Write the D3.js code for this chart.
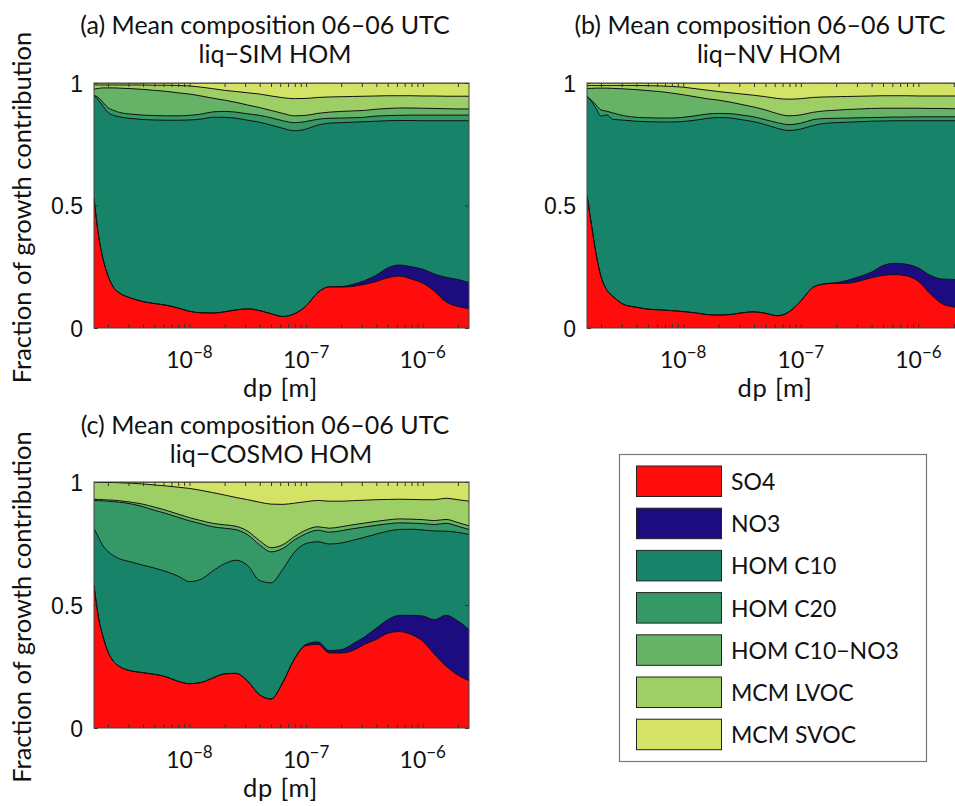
<!DOCTYPE html>
<html><head><meta charset="utf-8">
<script src="https://cdn.jsdelivr.net/npm/d3@7"></script>
<style>
body{margin:0;background:#fff;}
svg{display:block;font-family:Lato,"Noto Sans",sans-serif;}
</style></head><body>
<svg id="chart" width="955" height="806"></svg>
<script>
// particle diameter dp [m]
const dp = [1.52e-9,1.66e-9,1.82e-9,2.00e-9,2.24e-9,2.51e-9,3.16e-9,3.98e-9,5.01e-9,6.31e-9,7.94e-9,
  1.00e-8,1.26e-8,1.58e-8,2.00e-8,2.51e-8,3.16e-8,3.98e-8,5.01e-8,6.31e-8,7.94e-8,
  1.00e-7,1.26e-7,1.58e-7,2.00e-7,2.51e-7,3.16e-7,3.98e-7,5.01e-7,6.31e-7,7.94e-7,
  1.00e-6,1.26e-6,1.58e-6,2.00e-6,2.49e-6];

const seriesNames = ["SO4","NO3","HOM C10","HOM C20","HOM C10\u2212NO3","MCM LVOC","MCM SVOC"];
const seriesColors = ["#ff0d0d","#1c0c80","#178469","#349966","#66b266","#9ecf66","#d4e366"];

const yTicks = [0, 0.5, 1];
const xMajorTicks = [1e-8, 1e-7, 1e-6];
const xTickExponents = ["\u22128", "\u22127", "\u22126"];

// (a) liq-SIM HOM
const simSO4 = [.53,.38,.28,.215,.165,.143,.122,.108,.10,.093,.082,.068,.062,.061,.066,.074,.078,.071,.058,.047,.058,.09,.145,.168,.167,.17,.178,.19,.205,.212,.20,.183,.15,.107,.088,.08];
const simNO3 = [0,0,0,0,0,0,0,0,0,0,0,0,0,0,0,0,0,0,0,0,0,0,0,0,.002,.008,.015,.025,.04,.045,.05,.057,.07,.10,.11,.105];
const simC10 = [.42,.55,.625,.665,.703,.719,.733,.743,.749,.755,.766,.781,.791,.799,.794,.782,.77,.769,.77,.768,.747,.722,.683,.668,.669,.662,.649,.629,.601,.59,.597,.606,.626,.639,.648,.661];
const simC20 = [0,.01,.015,.02,.02,.018,.018,.018,.018,.018,.018,.019,.02,.022,.024,.025,.026,.028,.03,.031,.033,.031,.024,.02,.019,.018,.018,.021,.021,.021,.022,.023,.023,.023,.023,.023];
const simC10NO3 = [.025,.038,.06,.08,.092,.099,.104,.105,.103,.10,.094,.087,.074,.056,.046,.04,.036,.032,.03,.03,.028,.025,.024,.025,.027,.028,.028,.028,.029,.03,.029,.028,.027,.026,.025,.025];
const simLVOC = [.017,.014,.012,.012,.012,.013,.015,.018,.021,.025,.03,.033,.036,.039,.04,.044,.05,.055,.059,.064,.07,.069,.065,.062,.06,.059,.058,.054,.052,.05,.05,.05,.051,.051,.052,.052];
const simSVOC = [.008,.008,.008,.008,.008,.008,.008,.008,.009,.009,.01,.012,.017,.023,.03,.035,.04,.045,.053,.06,.064,.063,.059,.057,.056,.055,.054,.053,.052,.052,.052,.053,.053,.054,.054,.054];

// (b) liq-NV HOM
const nvSO4 = [.54,.42,.30,.21,.155,.13,.095,.085,.077,.074,.071,.067,.062,.055,.053,.055,.062,.066,.06,.05,.066,.11,.165,.18,.182,.183,.192,.205,.215,.218,.213,.19,.14,.10,.086,.08];
const nvNO3 = [0,0,0,0,0,0,0,0,0,0,0,0,0,0,0,0,0,0,0,0,0,0,0,0,.003,.012,.018,.023,.04,.046,.047,.055,.075,.10,.112,.11];
const nvC10 = [.405,.505,.595,.655,.715,.722,.753,.759,.765,.767,.77,.776,.786,.80,.806,.802,.788,.776,.77,.765,.74,.702,.661,.655,.653,.645,.632,.616,.59,.582,.586,.601,.631,.646,.648,.656];
const nvC20 = [0,.005,.015,.025,.015,.026,.018,.016,.016,.016,.016,.017,.018,.018,.017,.018,.019,.02,.02,.023,.024,.024,.024,.02,.018,.017,.016,.015,.015,.015,.015,.016,.016,.016,.016,.016];
const nvC10NO3 = [.033,.048,.069,.089,.094,.10,.11,.113,.111,.108,.102,.092,.078,.063,.054,.047,.043,.04,.04,.037,.036,.034,.03,.031,.033,.035,.036,.037,.037,.036,.036,.035,.034,.034,.033,.033];
const nvLVOC = [.012,.012,.011,.011,.011,.012,.014,.017,.02,.023,.027,.031,.033,.035,.035,.038,.043,.048,.054,.062,.068,.066,.061,.057,.055,.053,.052,.051,.051,.051,.051,.05,.051,.051,.052,.052];
const nvSVOC = [.01,.01,.01,.01,.01,.01,.01,.01,.011,.012,.014,.017,.023,.029,.035,.04,.045,.05,.056,.063,.066,.064,.059,.057,.056,.055,.054,.053,.052,.052,.052,.053,.053,.053,.053,.053];

// (c) liq-COSMO HOM
const cosSO4 = [.58,.45,.37,.31,.27,.25,.232,.225,.218,.208,.19,.18,.185,.203,.22,.222,.19,.135,.118,.185,.28,.335,.34,.305,.305,.315,.34,.36,.385,.392,.38,.353,.30,.252,.215,.192];
const cosNO3 = [0,0,0,0,0,0,0,0,0,0,0,0,0,0,0,0,0,0,0,0,.002,.005,.01,.01,.013,.027,.03,.045,.055,.066,.078,.102,.14,.206,.22,.208];
const cosC10 = [.23,.325,.37,.408,.43,.438,.443,.437,.432,.428,.428,.415,.42,.435,.448,.46,.47,.465,.472,.46,.433,.41,.407,.433,.434,.421,.405,.383,.36,.349,.35,.35,.361,.342,.36,.387];
const cosC20 = [.115,.149,.183,.204,.22,.23,.236,.238,.235,.236,.239,.247,.225,.18,.144,.124,.125,.145,.126,.085,.049,.04,.047,.048,.05,.047,.042,.036,.03,.027,.025,.026,.026,.032,.025,.02];
const cosC10NO3 = [.005,.005,.005,.005,.006,.006,.007,.01,.013,.013,.013,.013,.013,.014,.014,.014,.015,.017,.017,.015,.014,.015,.014,.016,.016,.016,.016,.016,.016,.016,.016,.016,.016,.016,.015,.015];
const cosLVOC = [.068,.069,.07,.071,.072,.073,.077,.082,.09,.099,.109,.119,.123,.125,.121,.117,.128,.156,.177,.164,.136,.115,.107,.11,.104,.098,.093,.088,.083,.08,.08,.081,.085,.086,.093,.10];
const cosSVOC = [.002,.002,.002,.002,.002,.003,.005,.008,.012,.016,.021,.026,.034,.043,.053,.063,.072,.082,.09,.091,.086,.08,.075,.078,.078,.076,.074,.072,.071,.07,.071,.072,.072,.066,.072,.078];

const panels = [
  {t1:"(a) Mean composition 06\u201306 UTC", t2:"liq\u2212SIM HOM", t1x:265, t2x:275, t1y:34, t2y:63,
   series:[simSO4,simNO3,simC10,simC20,simC10NO3,simLVOC,simSVOC], L:94, R:469, T:83, B:328, ylab:true},
  {t1:"(b) Mean composition 06\u201306 UTC", t2:"liq\u2212NV HOM", t1x:760, t2x:769, t1y:34, t2y:63,
   series:[nvSO4,nvNO3,nvC10,nvC20,nvC10NO3,nvLVOC,nvSVOC], L:587, R:965, T:83, B:328, ylab:false},
  {t1:"(c) Mean composition 06\u201306 UTC", t2:"liq\u2212COSMO HOM", t1x:265, t2x:271, t1y:434, t2y:463,
   series:[cosSO4,cosNO3,cosC10,cosC20,cosC10NO3,cosLVOC,cosSVOC], L:94, R:469, T:482, B:728, ylab:true}
];

const FS = 23;      // tick labels & legend
const FT = 25;      // titles
const FL = 25.5;    // axis labels
const svg = d3.select("#chart");
const ink = "#111";

// minor ticks for log axis
const minorTicks = [];
for (let e = -9; e <= -6; e++) for (let k = 1; k <= 9; k++) {
  const v = k * Math.pow(10, e);
  if (v >= dp[0] && v <= dp[dp.length-1]) minorTicks.push(v);
}

panels.forEach((p, pi) => {
  const x = d3.scaleLog().domain([dp[0], dp[dp.length-1]]).range([p.L, p.R]);
  const y = d3.scaleLinear().domain([0, 1]).range([p.B, p.T]);
  const rows = dp.map((d, i) => {
    const r = {dp: d};
    seriesNames.forEach((n, k) => r[n] = p.series[k][i]);
    return r;
  });
  const stacked = d3.stack().keys(seriesNames)(rows);

  const clipId = "clip" + pi;
  svg.append("clipPath").attr("id", clipId).append("rect")
    .attr("x", p.L).attr("y", p.T).attr("width", p.R - p.L).attr("height", p.B - p.T);

  const g = svg.append("g").attr("clip-path", `url(#${clipId})`);
  const area = d3.area().curve(d3.curveMonotoneX)
    .x(d => x(d.data.dp)).y0(y(0)).y1(d => y(d[1]));
  const line = d3.line().curve(d3.curveMonotoneX)
    .x(d => x(d.data.dp)).y(d => y(d[1]));

  for (let k = stacked.length - 1; k >= 0; k--) {
    g.append("path").attr("d", area(stacked[k])).attr("fill", seriesColors[k]).attr("stroke", "none");
  }
  for (let k = 0; k < stacked.length; k++) {
    g.append("path").attr("d", line(stacked[k])).attr("fill", "none")
      .attr("stroke", ink).attr("stroke-width", 1);
  }

  const axG = svg.append("g").style("font-family", "Lato").style("font-size", FS + "px");
  const bottomMinor = axG.append("g").attr("transform", `translate(0,${p.B})`)
    .call(d3.axisBottom(x).tickValues(minorTicks).tickSize(-4).tickFormat(""));
  const topMinor = axG.append("g").attr("transform", `translate(0,${p.T})`)
    .call(d3.axisTop(x).tickValues(minorTicks).tickSize(-4).tickFormat(""));
  const leftAx = axG.append("g").attr("transform", `translate(${p.L},0)`)
    .call(d3.axisLeft(y).tickValues(yTicks).tickSize(-4).tickPadding(11).tickFormat(d => String(d)));
  const rightAx = axG.append("g").attr("transform", `translate(${p.R},0)`)
    .call(d3.axisRight(y).tickValues(yTicks).tickSize(-4).tickFormat(""));
  [bottomMinor, topMinor, leftAx, rightAx].forEach(a => {
    a.select(".domain").remove();
    a.selectAll(".tick line").attr("stroke", "#333");
  });
  leftAx.selectAll(".tick text").attr("fill", ink).style("font-size", FS + "px").attr("dy", "0.36em");

  xMajorTicks.forEach((v, i) => {
    const t = axG.append("text").attr("x", x(v)).attr("y", p.B + 40)
      .attr("text-anchor", "middle").attr("fill", ink).style("font-size", FS + "px");
    t.append("tspan").text("10");
    t.append("tspan").attr("dy", -10).style("font-size", "17px").text(xTickExponents[i]);
  });

  svg.append("rect").attr("x", p.L).attr("y", p.T).attr("width", p.R - p.L).attr("height", p.B - p.T)
    .attr("fill", "none").attr("stroke", "#444").attr("stroke-width", 1);

  svg.append("text").attr("x", p.t1x).attr("y", p.t1y).attr("text-anchor", "middle")
    .style("font-size", FT + "px").attr("fill", ink).text(p.t1);
  svg.append("text").attr("x", p.t2x).attr("y", p.t2y).attr("text-anchor", "middle")
    .style("font-size", FT + "px").attr("fill", ink).text(p.t2);

  svg.append("text").attr("x", (p.L + p.R) / 2 - 1).attr("y", p.B + 69).attr("text-anchor", "middle")
    .style("font-size", FL + "px").style("letter-spacing", "0.8px").attr("fill", ink).text("dp [m]");

  if (p.ylab) {
    const cy = (p.T + p.B) / 2 + 2;
    svg.append("text").attr("transform", `translate(31,${cy}) rotate(-90)`).attr("text-anchor", "middle")
      .style("font-size", FL + "px").attr("fill", ink).text("Fraction of growth contribution");
  }
});

const lg = svg.append("g");
lg.append("rect").attr("x", 619.5).attr("y", 454.5).attr("width", 307).attr("height", 307)
  .attr("fill", "#fff").attr("stroke", "#777").attr("stroke-width", 1.2);
seriesNames.forEach((n, i) => {
  const yy = 466 + i * 42.2;
  lg.append("rect").attr("x", 636.5).attr("y", yy).attr("width", 85).attr("height", 30.5)
    .attr("fill", seriesColors[i]).attr("stroke", "#222").attr("stroke-width", 1);
  lg.append("text").attr("x", 731).attr("y", yy + 24).style("font-size", FS + "px")
    .attr("fill", ink).text(n);
});
</script>
</body></html>
